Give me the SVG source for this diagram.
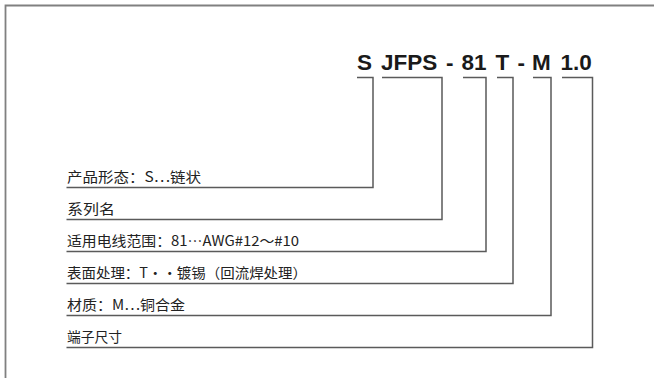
<svg xmlns="http://www.w3.org/2000/svg" width="654" height="378" viewBox="0 0 654 378">
<style>
.frame{fill:none;stroke:#808080;stroke-width:1.8}
.conn{fill:none;stroke:#5a5a5a;stroke-width:1.5}
.title{font-family:"Liberation Sans",Arial,sans-serif;font-weight:bold;font-size:22.5px;fill:#1a1a1a}
.lbl{font-family:"Noto Sans CJK SC","Noto Sans",sans-serif;font-size:14px;fill:#222}
</style>
<rect width="654" height="378" fill="#fff"/>
<path class="frame" d="M5.5,378 V5.5 H654"/>
<g id="title">
<text class="title" y="69.5"><tspan x="357">S</tspan><tspan x="381">JFPS</tspan><tspan x="446">-</tspan><tspan x="461.5">81</tspan><tspan x="495.5">T</tspan><tspan x="517.5">-</tspan><tspan x="532">M</tspan><tspan x="560.5">1.0</tspan></text>
</g>
<g id="connectors">
<path class="conn" d="M357,77.5 H373 V187.5 H66.5"/>
<path class="conn" d="M382,77.5 H442 V219.5 H66.5"/>
<path class="conn" d="M463,77.5 H486 V251.5 H66.5"/>
<path class="conn" d="M497,77.5 H513 V283.5 H66.5"/>
<path class="conn" d="M533,77.5 H551 V315.5 H66.5"/>
<path class="conn" d="M562,77.5 H592.5 V347.5 H66.5"/>
</g>
<g id="n1"><text class="lbl" x="67" y="182" textLength="134" lengthAdjust="spacingAndGlyphs">产品形态：S⋯链状</text></g>
<g id="n2"><text class="lbl" x="67" y="214" textLength="48" lengthAdjust="spacingAndGlyphs">系列名</text></g>
<g id="n3"><text class="lbl" x="67" y="246" textLength="232" lengthAdjust="spacingAndGlyphs">适用电线范围：81⋯AWG#12～#10</text></g>
<g id="n4"><text class="lbl" x="67" y="278" textLength="240" lengthAdjust="spacingAndGlyphs">表面处理：T··镀锡（回流焊处理）</text></g>
<g id="n5"><text class="lbl" x="67" y="310" textLength="118" lengthAdjust="spacingAndGlyphs">材质：M⋯铜合金</text></g>
<g id="n6"><text class="lbl" x="67" y="342" textLength="55" lengthAdjust="spacingAndGlyphs">端子尺寸</text></g>
</svg>
